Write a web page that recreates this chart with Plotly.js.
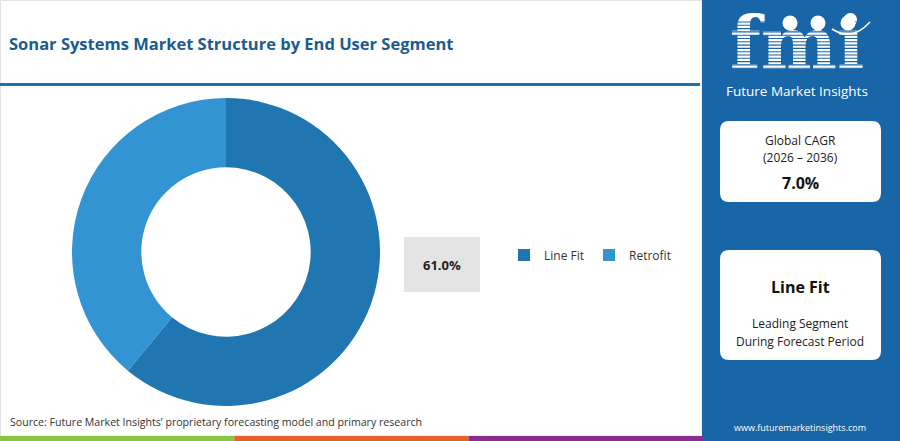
<!DOCTYPE html>
<html>
<head>
<meta charset="utf-8">
<script src="https://cdn.plot.ly/plotly-3.0.1.min.js"></script>
<style>
  html, body { margin: 0; padding: 0; background: #ffffff; }
  #chart { width: 900px; height: 441px; }
</style>
</head>
<body>
<div id="chart"></div>
<script>
// ---- data ----
const segments = ["Line Fit", "Retrofit"];
const shares = [61.0, 39.0];
const segmentColors = ["#1f76b0", "#3394d4"];
const chartTitle = "Sonar Systems Market Structure by End User Segment";
const sourceText = "Source: Future Market Insights\u2019 proprietary forecasting model and primary research";
const highlightLabel = "61.0%";
const cagrLabel = "Global CAGR";
const cagrPeriod = "(2026 \u2013 2036)";
const cagrValue = "7.0%";
const leadingSegment = "Line Fit";
const leadingText1 = "Leading Segment";
const leadingText2 = "During Forecast Period";
const siteText = "www.futuremarketinsights.com";
const brandName = "Future Market Insights";
const logoText = "fmi";

// ---- layout helpers (pixel -> paper) ----
const W = 900, H = 441;
const px = x => x / W;
const py = y => 1 - y / H;
const FONT = "Open Sans, Lato, sans-serif";
const PANEL = "#1866a7";

function rrect(x0, y0, x1, y1, r) {
  return `M${x0+r},${y0} L${x1-r},${y0} Q${x1},${y0} ${x1},${y0+r} L${x1},${y1-r} Q${x1},${y1} ${x1-r},${y1} L${x0+r},${y1} Q${x0},${y1} ${x0},${y1-r} L${x0},${y0+r} Q${x0},${y0} ${x0+r},${y0} Z`;
}

const shapes = [];
// card border
shapes.push({type:'rect', xref:'paper', yref:'paper', x0:px(0.5), x1:px(702), y0:py(436), y1:py(0.5), line:{color:'#e2e2e2', width:1}, fillcolor:'rgba(0,0,0,0)', layer:'below'});
// right panel
shapes.push({type:'rect', xref:'paper', yref:'paper', x0:px(702), x1:1, y0:0, y1:1, line:{width:0}, fillcolor:PANEL, layer:'below'});
// separator line
shapes.push({type:'line', xref:'paper', yref:'paper', x0:0, x1:px(700), y0:py(84.5), y1:py(84.5), line:{color:'#1f6fa9', width:3}});
// bottom strip
const stripColors = ["#8cc63f", "#e5632b", "#8b2d8e"];
stripColors.forEach((c, i) => {
  shapes.push({type:'rect', xref:'paper', yref:'paper', x0:px(i*234.3), x1:px((i+1)*234.3), y0:0, y1:py(436), line:{width:0}, fillcolor:c});
});
// 61% box
shapes.push({type:'rect', xref:'paper', yref:'paper', x0:px(404), x1:px(480), y0:py(292), y1:py(237), line:{width:0}, fillcolor:'#e4e4e4', layer:'below'});
// white cards (pixel coords)
shapes.push({type:'path', xref:'x', yref:'y', path:rrect(720,121,881,202,9), line:{width:0}, fillcolor:'#ffffff', layer:'below'});
shapes.push({type:'path', xref:'x', yref:'y', path:rrect(720,250,881,360,9), line:{width:0}, fillcolor:'#ffffff', layer:'below'});
// logo stripes (over logo text trace)
for (let y = 22; y < 77; y += 3.3) {
  shapes.push({type:'line', xref:'x', yref:'y', x0:724, x1:872, y0:y, y1:y, line:{color:PANEL, width:1.1}, layer:'above'});
}
// logo circles + arc
[790, 818, 848].forEach(cx => {
  shapes.push({type:'circle', xref:'x', yref:'y', x0:cx-7.5, x1:cx+7.5, y0:15.5, y1:30.5, line:{width:0}, fillcolor:'#ffffff', layer:'above'});
});
shapes.push({type:'path', xref:'x', yref:'y', path:'M832,29 Q852,42 870,22', line:{color:'#ffffff', width:1.5}, layer:'above'});

const annotations = [];
function txt(x, y, text, size, color, opts) {
  annotations.push(Object.assign({xref:'x', yref:'y', x:x, y:y, text:text, showarrow:false,
    font:{family:FONT, size:size, color:color}, xanchor:'center', yanchor:'middle'}, opts || {}));
}
txt(797, 91, brandName, 13.5, '#ffffff');
// card 1
txt(800, 140, cagrLabel, 12, '#222222');
txt(800, 157, cagrPeriod, 12, '#222222');
txt(800, 183, "<b>" + cagrValue + "</b>", 16, '#111111');
// card 2
txt(800, 287, "<b>" + leadingSegment + "</b>", 16, '#111111');
txt(800, 323, leadingText1, 12, '#222222');
txt(800, 341, leadingText2, 12, '#222222');
txt(800, 427, siteText, 9, '#ffffff');
// highlight box text
txt(442, 265, "<b>" + highlightLabel + "</b>", 13, '#222222');
// source
txt(8, 422, sourceText, 10.6, '#333333', {xanchor:'left'});

const data = [{
  type: 'pie',
  labels: segments,
  values: shares,
  marker: {colors: segmentColors, line:{width:0}},
  hole: 0.55,
  sort: false,
  direction: 'clockwise',
  rotation: 0,
  textinfo: 'none',
  hoverinfo: 'label+percent',
  domain: {x:[px(72), px(380)], y:[py(406), py(98)]}
}, {
  type: 'scatter',
  mode: 'text',
  x: [797],
  y: [51],
  text: ["<b>" + logoText + "</b>"],
  textposition: 'middle center',
  textfont: {family:'DejaVu Serif, serif', size:72, color:'#ffffff'},
  showlegend: false,
  hoverinfo: 'skip',
  cliponaxis: false
}];

const layout = {
  width: W, height: H,
  margin: {l:0, r:0, t:0, b:0},
  paper_bgcolor: '#ffffff',
  plot_bgcolor: 'rgba(0,0,0,0)',
  showlegend: true,
  title: {text: "<b>" + chartTitle + "</b>", x: px(9), xanchor:'left', y: py(44), yanchor:'middle', xref:'paper', yref:'paper',
          font:{family:FONT, size:16.5, color:'#1b5c8f'}},
  legend: {orientation:'h', x: px(504), xanchor:'left', y: py(255), yanchor:'middle',
           font:{family:FONT, size:12, color:'#333333'}, bgcolor:'rgba(0,0,0,0)', itemwidth:30},
  xaxis: {range:[0, W], visible:false, fixedrange:true, domain:[0,1]},
  yaxis: {range:[H, 0], visible:false, fixedrange:true, domain:[0,1]},
  shapes: shapes,
  annotations: annotations
};

Plotly.newPlot('chart', data, layout, {displayModeBar:false, staticPlot:true});
</script>
</body>
</html>
